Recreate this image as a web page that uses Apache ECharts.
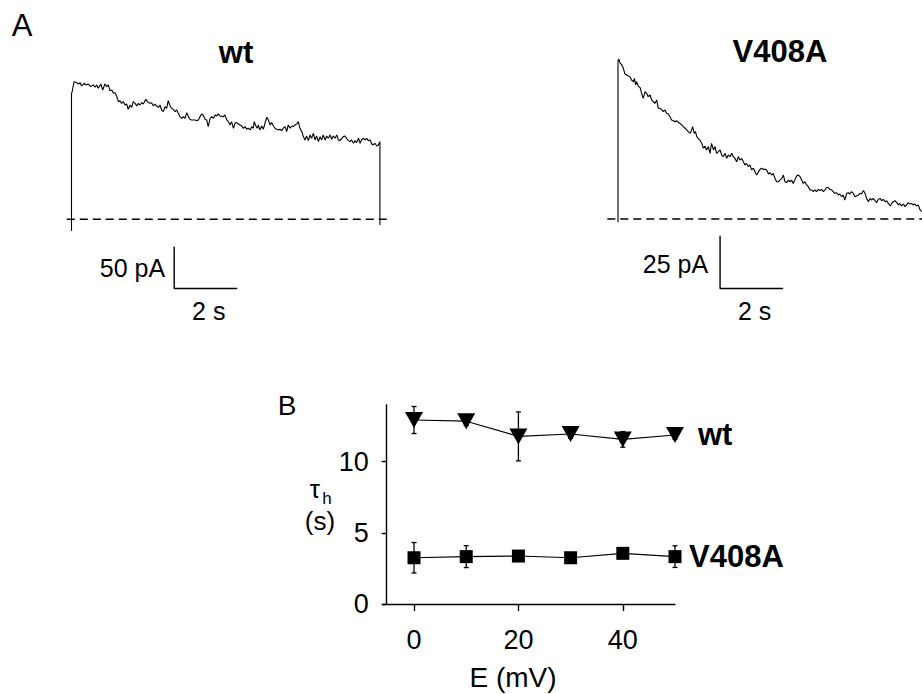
<!DOCTYPE html>
<html><head><meta charset="utf-8">
<script src="https://cdn.jsdelivr.net/npm/echarts@6/dist/echarts.min.js"></script>
<style>html,body{margin:0;padding:0;background:#fff}#c{width:922px;height:694px}</style>
</head><body><div id="c"></div>
<script>
// ---- Panel A: current traces (time in s, current in pA) ----
const wtTrace = [[0,-14],[0,150],[0.03,155.0],[0.08,165.0],[0.16,163.9],[0.22,162.2],[0.27,163.9],[0.32,159.9],[0.40,163.1],[0.46,161.1],[0.53,162.2],[0.61,159.0],[0.69,161.1],[0.75,158.3],[0.80,161.1],[0.85,157.0],[0.93,162.2],[0.99,155.0],[1.06,162.2],[1.12,159.0],[1.17,161.1],[1.22,154.2],[1.28,155.0],[1.33,151.0],[1.38,151.8],[1.43,147.8],[1.49,141.0],[1.54,142.2],[1.59,139.0],[1.65,141.0],[1.70,137.0],[1.75,138.2],[1.80,131.9],[1.86,137.0],[1.91,134.2],[1.96,141.0],[2.02,139.0],[2.07,135.8],[2.12,139.0],[2.17,137.0],[2.23,139.8],[2.28,138.2],[2.36,143.8],[2.41,141.0],[2.49,139.0],[2.54,139.8],[2.60,135.8],[2.65,138.2],[2.70,135.8],[2.76,134.2],[2.81,137.0],[2.86,131.0],[2.91,129.1],[2.97,135.0],[3.02,133.0],[3.07,142.2],[3.13,135.8],[3.18,133.0],[3.23,131.9],[3.29,129.1],[3.34,131.1],[3.39,127.1],[3.44,123.1],[3.50,121.1],[3.55,123.1],[3.60,121.1],[3.66,127.9],[3.71,123.1],[3.76,119.9],[3.81,119.1],[3.87,119.1],[3.92,119.1],[3.97,118.3],[4.03,119.1],[4.08,123.1],[4.13,126.3],[4.18,125.1],[4.24,119.9],[4.29,119.1],[4.34,111.1],[4.40,121.1],[4.45,123.1],[4.50,121.1],[4.56,125.1],[4.61,123.9],[4.66,126.3],[4.71,123.9],[4.82,123.1],[4.87,125.1],[4.93,119.1],[4.98,117.1],[5.03,113.1],[5.08,117.1],[5.14,109.1],[5.19,115.1],[5.24,115.9],[5.30,114.3],[5.35,113.1],[5.40,111.9],[5.46,109.1],[5.51,111.1],[5.56,107.9],[5.61,109.1],[5.67,107.1],[5.72,111.1],[5.77,109.1],[5.80,117.1],[5.86,111.1],[5.90,109.1],[5.93,113.1],[5.98,107.1],[6.04,111.9],[6.09,107.9],[6.14,115.1],[6.20,122.3],[6.25,119.1],[6.30,113.1],[6.35,115.9],[6.41,111.9],[6.46,109.1],[6.51,107.9],[6.57,107.1],[6.62,107.9],[6.67,106.3],[6.72,109.1],[6.78,111.1],[6.83,105.1],[6.88,113.1],[6.94,109.1],[6.99,111.9],[7.04,111.1],[7.09,113.1],[7.15,114.3],[7.20,117.1],[7.25,109.1],[7.31,105.1],[7.36,99.1],[7.41,95.1],[7.46,99.9],[7.52,94.3],[7.57,101.1],[7.62,97.1],[7.68,103.1],[7.73,95.1],[7.78,99.9],[7.84,93.1],[7.89,99.1],[7.94,95.1],[7.99,101.1],[8.05,95.1],[8.10,99.9],[8.15,97.1],[8.21,101.1],[8.26,95.9],[8.31,99.9],[8.36,97.1],[8.42,101.1],[8.47,95.1],[8.52,94.3],[8.58,97.1],[8.63,99.1],[8.68,99.9],[8.73,97.1],[8.79,94.3],[8.84,93.1],[8.89,95.1],[8.95,91.1],[9.00,94.3],[9.05,91.9],[9.11,97.1],[9.16,91.1],[9.21,95.1],[9.26,97.1],[9.32,95.1],[9.37,97.1],[9.42,94.3],[9.48,95.1],[9.53,90.3],[9.58,89.1],[9.63,91.1],[9.69,87.9],[9.74,89.1],[9.79,93.1],[9.79,-7]];
const mutTrace = [[0,-1.5],[0,75.5],[0.03,75.9],[0.06,74.3],[0.12,73.2],[0.17,71.6],[0.22,68.9],[0.28,68.4],[0.33,67.9],[0.38,67.6],[0.43,66.0],[0.49,65.2],[0.52,66.8],[0.56,63.7],[0.59,65.2],[0.65,62.9],[0.70,62.5],[0.75,59.7],[0.80,57.3],[0.86,60.5],[0.91,59.7],[0.96,58.1],[1.02,58.9],[1.07,56.5],[1.12,55.7],[1.17,54.9],[1.23,56.5],[1.28,52.6],[1.33,52.6],[1.39,51.8],[1.44,51.0],[1.49,51.8],[1.54,50.2],[1.60,49.9],[1.65,48.6],[1.70,47.0],[1.76,46.7],[1.81,46.2],[1.86,46.7],[1.92,45.8],[1.97,45.4],[2.02,44.7],[2.07,43.9],[2.13,43.1],[2.18,42.3],[2.23,41.5],[2.29,40.7],[2.34,42.3],[2.37,43.9],[2.42,40.7],[2.46,41.5],[2.50,39.1],[2.55,38.3],[2.60,37.5],[2.66,35.9],[2.71,33.6],[2.76,34.7],[2.81,32.8],[2.87,34.4],[2.92,31.2],[2.97,35.9],[3.03,32.8],[3.08,34.4],[3.13,31.2],[3.19,32.0],[3.24,32.8],[3.29,30.4],[3.34,29.6],[3.40,31.2],[3.45,28.8],[3.50,30.4],[3.56,29.6],[3.61,31.2],[3.66,29.6],[3.71,28.8],[3.77,27.2],[3.82,29.6],[3.87,28.0],[3.93,28.8],[3.98,27.2],[4.03,25.7],[4.08,26.4],[4.14,24.9],[4.19,25.7],[4.24,23.3],[4.30,24.1],[4.35,22.5],[4.40,20.9],[4.46,22.5],[4.51,23.6],[4.56,24.1],[4.61,23.6],[4.67,23.6],[4.72,23.3],[4.78,21.4],[4.83,22.0],[4.88,20.9],[4.93,21.7],[4.98,19.3],[5.04,17.7],[5.09,17.7],[5.14,18.5],[5.20,19.3],[5.25,20.9],[5.30,17.7],[5.35,17.3],[5.41,18.5],[5.46,17.7],[5.51,18.5],[5.56,16.9],[5.62,18.8],[5.67,20.4],[5.72,20.9],[5.78,20.1],[5.83,18.5],[5.88,16.9],[5.93,17.7],[5.99,16.2],[6.04,15.4],[6.09,13.8],[6.15,13.8],[6.20,13.0],[6.25,13.8],[6.30,13.0],[6.36,14.1],[6.41,13.5],[6.46,14.1],[6.52,13.0],[6.57,13.8],[6.62,15.0],[6.67,15.0],[6.73,14.1],[6.78,13.8],[6.83,13.0],[6.88,12.2],[6.94,12.5],[6.99,11.4],[7.04,11.9],[7.10,10.6],[7.15,11.4],[7.20,9.0],[7.26,12.2],[7.31,12.5],[7.36,11.9],[7.41,13.0],[7.47,12.2],[7.52,10.6],[7.57,10.9],[7.63,11.4],[7.68,12.2],[7.73,11.9],[7.79,13.5],[7.84,12.2],[7.89,9.8],[7.95,8.2],[8.00,9.8],[8.05,9.0],[8.10,9.8],[8.16,8.7],[8.21,7.8],[8.26,9.3],[8.32,9.8],[8.37,8.7],[8.42,9.3],[8.48,8.2],[8.53,8.7],[8.58,7.4],[8.64,6.2],[8.69,7.4],[8.74,8.2],[8.79,8.7],[8.85,7.8],[8.90,6.7],[8.95,7.4],[9.00,6.2],[9.06,7.1],[9.11,5.9],[9.16,6.7],[9.21,7.8],[9.27,7.1],[9.32,7.4],[9.37,6.7],[9.42,7.1],[9.48,6.2],[9.53,6.7],[9.59,4.3],[9.64,3.5]];
const wtScale = {pA: 50, s: 2};
const mutScale = {pA: 25, s: 2};

// ---- Panel B: tau_h vs E ----
const voltages = [0, 10, 20, 30, 40, 50];
const tauWt = [12.93, 12.85, 11.78, 11.95, 11.57, 11.88];
const tauWtErr = [0.95, 0.3, 1.72, 0.3, 0.55, 0.3];
const tauMut = [3.25, 3.33, 3.37, 3.25, 3.56, 3.33];
const tauMutErr = [1.07, 0.77, 0.3, 0.3, 0.3, 0.76];
const xTickValues = [0, 20, 40];
const yTickValues = [0, 5, 10];

const FONT = "'Liberation Sans', Arial, Helvetica, sans-serif";
const chart = echarts.init(document.getElementById('c'), null, {renderer: 'svg'});

const wtBar = [3.26, -83];
const mutBar = [3.24, -33];

function scaleBar(origin, sc) {
  return [[origin[0], origin[1] + sc.pA], [origin[0], origin[1]], [origin[0] + sc.s, origin[1]]];
}
function errRender(params, api) {
  const x = api.value(0), y = api.value(1), e = api.value(2);
  const t = api.coord([x, y + e]), b = api.coord([x, y - e]);
  const cap = 2.5, st = {stroke: '#000', lineWidth: 1.3};
  return {type: 'group', children: [
    {type: 'line', shape: {x1: t[0], y1: t[1], x2: b[0], y2: b[1]}, style: st},
    {type: 'line', shape: {x1: t[0] - cap, y1: t[1], x2: t[0] + cap, y2: t[1]}, style: st},
    {type: 'line', shape: {x1: b[0] - cap, y1: b[1], x2: b[0] + cap, y2: b[1]}, style: st}
  ]};
}
const hiddenAxis = (gi, min, max) => ({type: 'value', gridIndex: gi, min, max, show: false, splitLine: {show: false}});
const blackLine = {color: '#000', width: 1.1};
const dashLine = {color: '#000', width: 1.3, type: [8, 5]};

const option = {
  animation: false,
  backgroundColor: '#fff',
  grid: [
    {left: 65.2, top: 77.5, width: 324.5, height: 216.8},
    {left: 605.4, top: 54.8, width: 316.6, height: 237.9},
    {left: 382.7, top: 404.8, width: 292.3, height: 199.2}
  ],
  xAxis: [
    hiddenAxis(0, -0.2, 10.1),
    hiddenAxis(1, -0.4, 9.65),
    {type: 'value', gridIndex: 2, min: -6, max: 50,
     axisLine: {onZero: false, lineStyle: {color: '#000', width: 1.4}},
     axisTick: {show: true, customValues: xTickValues, length: 7, lineStyle: {color: '#000', width: 1.4}},
     axisLabel: {customValues: xTickValues, margin: 22, fontSize: 27, color: '#000', fontFamily: FONT},
     splitLine: {show: false}}
  ],
  yAxis: [
    hiddenAxis(0, -90, 170),
    hiddenAxis(1, -35, 78),
    {type: 'value', gridIndex: 2, min: 0, max: 14, offset: -4,
     axisLine: {show: true, onZero: false, lineStyle: {color: '#000', width: 1.4}},
     axisTick: {show: true, customValues: yTickValues, length: 5, lineStyle: {color: '#000', width: 1.4}},
     axisLabel: {customValues: yTickValues, margin: 18, fontSize: 27, color: '#000', fontFamily: FONT},
     splitLine: {show: false}}
  ],
  series: [
    {type: 'line', xAxisIndex: 0, yAxisIndex: 0, data: wtTrace, symbol: 'none', lineStyle: blackLine},
    {type: 'line', xAxisIndex: 0, yAxisIndex: 0, data: [[-0.15, 0], [10.04, 0]], symbol: 'none', lineStyle: dashLine},
    {type: 'line', xAxisIndex: 0, yAxisIndex: 0, data: scaleBar(wtBar, wtScale), symbol: 'none', lineStyle: {color: '#000', width: 1.4}},
    {type: 'line', xAxisIndex: 1, yAxisIndex: 1, data: mutTrace, symbol: 'none', lineStyle: blackLine},
    {type: 'line', xAxisIndex: 1, yAxisIndex: 1, data: [[-0.34, 0], [9.65, 0]], symbol: 'none', lineStyle: dashLine},
    {type: 'line', xAxisIndex: 1, yAxisIndex: 1, data: scaleBar(mutBar, mutScale), symbol: 'none', lineStyle: {color: '#000', width: 1.4}},
    {type: 'custom', xAxisIndex: 2, yAxisIndex: 2, renderItem: errRender, z: 1,
     data: voltages.map((v, i) => [v, tauWt[i], tauWtErr[i]]), encode: {x: 0, y: 1}},
    {type: 'custom', xAxisIndex: 2, yAxisIndex: 2, renderItem: errRender, z: 1,
     data: voltages.map((v, i) => [v, tauMut[i], tauMutErr[i]]), encode: {x: 0, y: 1}},
    {name: 'wt', type: 'line', xAxisIndex: 2, yAxisIndex: 2, z: 3,
     data: voltages.map((v, i) => [v, tauWt[i]]),
     symbol: 'triangle', symbolRotate: 180, symbolSize: [18, 16],
     itemStyle: {color: '#000'}, lineStyle: {color: '#000', width: 1.1},
     endLabel: {show: true, formatter: 'wt', distance: 23, fontSize: 31, fontWeight: 'bold', color: '#000', fontFamily: FONT}},
    {name: 'V408A', type: 'line', xAxisIndex: 2, yAxisIndex: 2, z: 3,
     data: voltages.map((v, i) => [v, tauMut[i]]),
     symbol: 'rect', symbolSize: 13,
     itemStyle: {color: '#000'}, lineStyle: {color: '#000', width: 1.1},
     endLabel: {show: true, formatter: 'V408A', distance: 14, fontSize: 31, fontWeight: 'bold', color: '#000', fontFamily: FONT}}
  ]
};
chart.setOption(option);

function txt(x, y, text, size, opts) {
  return Object.assign({type: 'text', x: x, y: y, z: 10,
    style: Object.assign({text: text, fontSize: size, fontFamily: FONT, fill: '#000', align: 'center', verticalAlign: 'middle'}, opts || {})});
}
const pWtTop = chart.convertToPixel({xAxisIndex: 0, yAxisIndex: 0}, [wtBar[0], wtBar[1] + wtScale.pA]);
const pWtO = chart.convertToPixel({xAxisIndex: 0, yAxisIndex: 0}, wtBar);
const pWtR = chart.convertToPixel({xAxisIndex: 0, yAxisIndex: 0}, [wtBar[0] + wtScale.s, wtBar[1]]);
const pMTop = chart.convertToPixel({xAxisIndex: 1, yAxisIndex: 1}, [mutBar[0], mutBar[1] + mutScale.pA]);
const pMO = chart.convertToPixel({xAxisIndex: 1, yAxisIndex: 1}, mutBar);
const pMR = chart.convertToPixel({xAxisIndex: 1, yAxisIndex: 1}, [mutBar[0] + mutScale.s, mutBar[1]]);

chart.setOption({graphic: [
  txt(22, 25, 'A', 31),
  txt(236, 52, 'wt', 31, {fontWeight: 'bold'}),
  txt(780, 51, 'V408A', 31, {fontWeight: 'bold'}),
  txt(pWtO[0] - 9, (pWtTop[1] + pWtO[1]) / 2, wtScale.pA + ' pA', 25, {align: 'right'}),
  txt((pWtO[0] + pWtR[0]) / 2 + 3, pWtO[1] + 23, wtScale.s + ' s', 25),
  txt(pMO[0] - 12, (pMTop[1] + pMO[1]) / 2 + 2, mutScale.pA + ' pA', 25, {align: 'right'}),
  txt((pMO[0] + pMR[0]) / 2 + 3, pMO[1] + 23, mutScale.s + ' s', 25),
  txt(287, 405, 'B', 28),
  txt(315, 489, 'τ', 26),
  txt(327, 498, 'h', 17),
  txt(320, 521, '(s)', 26),
  txt(513, 677, 'E (mV)', 28)
]});
</script>
</body></html>
